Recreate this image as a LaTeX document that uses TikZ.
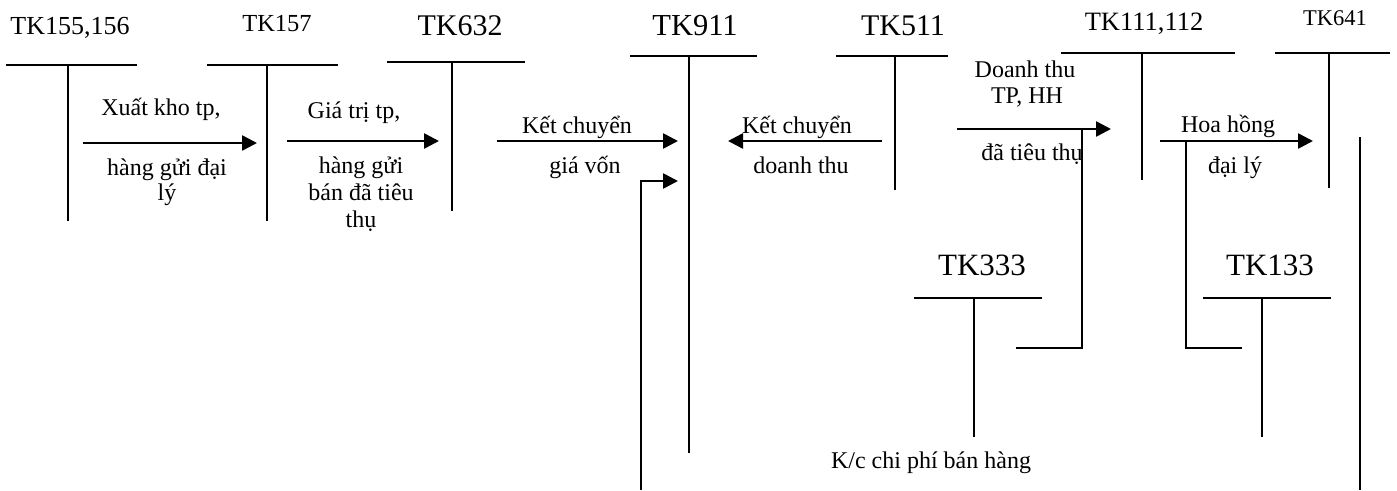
\documentclass[tikz,border=0pt]{standalone}
\usepackage{fontspec}
\setmainfont{Liberation Serif}
\usetikzlibrary{arrows.meta}
\begin{document}
\begin{tikzpicture}[x=1pt,y=-1pt]
  \tikzstyle{tline}=[line width=1.8pt]
  \tikzstyle{arr}=[line width=2.6pt,-{Triangle[length=15pt,width=15pt]}]
  \tikzstyle{link}=[line width=2.4pt]
  \tikzstyle{acct}=[anchor=base,inner sep=0pt]
  \tikzstyle{lbl}=[anchor=base,inner sep=0pt,font=\fontsize{24}{26.5}\selectfont]
  \useasboundingbox (0,0) rectangle (1397,490);
   % account titles
   \node[acct,font=\fontsize{26}{28}\selectfont] (tk155) at (70,34) {TK155,156};
   \node[acct,font=\fontsize{24.5}{26}\selectfont] (tk157) at (277,31) {TK157};
   \node[acct,font=\fontsize{30}{32}\selectfont] (tk632) at (460,35) {TK632};
   \node[acct,font=\fontsize{30.5}{32}\selectfont] (tk911) at (695,35) {TK911};
   \node[acct,font=\fontsize{30}{32}\selectfont] (tk511) at (903,35) {TK511};
   \node[acct,font=\fontsize{26.5}{28}\selectfont] (tk111) at (1144,30) {TK111,112};
   \node[acct,font=\fontsize{22.5}{24}\selectfont] (tk641) at (1335,25) {TK641};
   \node[acct,font=\fontsize{31}{33}\selectfont] (tk333) at (982,275) {TK333};
   \node[acct,font=\fontsize{31}{33}\selectfont] (tk133) at (1270,275) {TK133};
   % T accounts
   \draw[tline] (6,65) -- (137,65) (68,65) -- (68,221);
   \draw[tline] (207,65) -- (338,65) (267,65) -- (267,221);
   \draw[tline] (387,62) -- (525,62) (452,62) -- (452,211);
   \draw[tline] (630,56) -- (757,56) (689,56) -- (689,453);
   \draw[tline] (836,56) -- (948,56) (895,56) -- (895,190);
   \draw[tline] (1061,53) -- (1235,53) (1142,53) -- (1142,180);
   \draw[tline] (1275,53) -- (1390,53) (1329,53) -- (1329,188);
   \draw[tline] (914,298) -- (1042,298) (974,298) -- (974,437);
   \draw[tline] (1203,298) -- (1331,298) (1262,298) -- (1262,437);
   % connector ends
   \coordinate (s1) at (83,143);   \coordinate (e1) at (257,143);
   \coordinate (s2) at (287,141);  \coordinate (e2) at (439,141);
   \coordinate (s3) at (497,141);  \coordinate (e3) at (678,141);
   \coordinate (s4) at (882,141);  \coordinate (e4) at (728,141);
   \coordinate (s5) at (641,490);  \coordinate (e5) at (678,181);
   \coordinate (s6) at (957,129);  \coordinate (e6) at (1111,129);
   \coordinate (s7) at (1160,141); \coordinate (e7) at (1313,141);
   \coordinate (s8) at (1082,128); \coordinate (e8) at (1016,348);
   \coordinate (s9) at (1186,142); \coordinate (e9) at (1242,348);
   \coordinate (s10) at (1360,137); \coordinate (e10) at (1360,490);
   \draw[arr] (s1) -- (e1);
   \draw[arr] (s2) -- (e2);
   \draw[arr] (s3) -- (e3);
   \draw[arr] (s4) -- (e4);
   \draw[arr] (s5) |- (e5);
   \draw[arr] (s6) -- (e6);
   \draw[arr] (s7) -- (e7);
   \draw[link] (s8) |- (e8);
   \draw[link] (s9) |- (e9);
   \draw[link] (s10) -- (e10);
   % labels
   \node[lbl] (l1a) at (161,115) {Xuất kho tp,};
   \node[lbl] (l1b) at (167,175) {hàng gửi đại};
   \node[lbl] (l1c) at (167,200) {lý};
   \node[lbl] (l2a) at (354,118) {Giá trị tp,};
   \node[lbl] (l2b) at (361,173) {hàng gửi};
   \node[lbl] (l2c) at (361,200) {bán đã tiêu};
   \node[lbl] (l2d) at (361,227) {thụ};
   \node[lbl] (l3a) at (577,133) {Kết chuyển};
   \node[lbl] (l3b) at (585,173) {giá vốn};
   \node[lbl] (l4a) at (797,133) {Kết chuyển};
   \node[lbl] (l4b) at (801,173) {doanh thu};
   \node[lbl] (l6a) at (1025,77) {Doanh thu};
   \node[lbl] (l6b) at (1027,103) {TP, HH};
   \node[lbl] (l6c) at (1032,160) {đã tiêu thụ};
   \node[lbl] (l7a) at (1228,132) {Hoa hồng};
   \node[lbl] (l7b) at (1235,173) {đại lý};
   \node[lbl] (l5) at (931,468) {K/c chi phí bán hàng};
\end{tikzpicture}
\end{document}
